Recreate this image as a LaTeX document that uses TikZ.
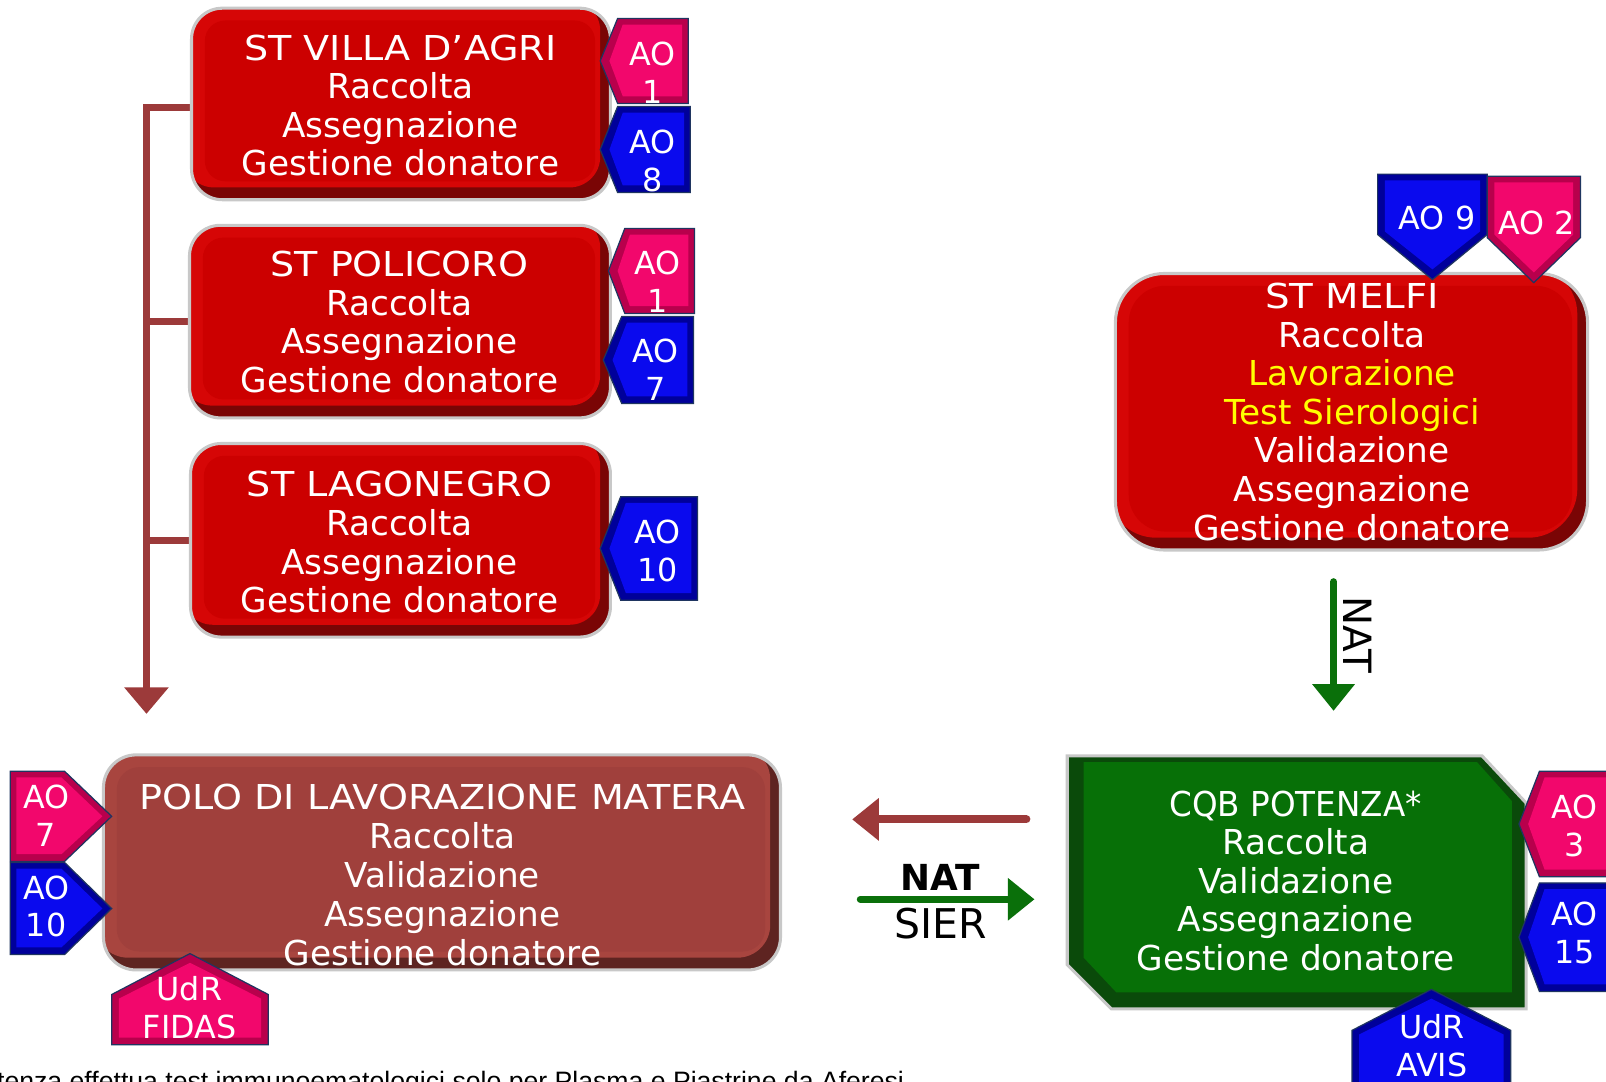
\documentclass[tikz,border=0pt]{standalone}
\usepackage{fontspec}
\setmainfont{DejaVu Sans}
\newfontfamily\arialfont{Liberation Sans}
\usepackage{graphicx}
\usetikzlibrary{arrows.meta}
\definecolor{stdark}{HTML}{7A0505}
\definecolor{stmain}{HTML}{D60606}
\definecolor{stpanel}{HTML}{CC0000}
\definecolor{polodark}{HTML}{5E2421}
\definecolor{polomain}{HTML}{A8453F}
\definecolor{polopanel}{HTML}{A0403C}
\definecolor{cqbdark}{HTML}{0A4A0A}
\definecolor{cqbmain}{HTML}{077007}
\definecolor{rimgray}{HTML}{C8C8C8}
\definecolor{pinkdark}{HTML}{B8004C}
\definecolor{pinkmain}{HTML}{F2076C}
\definecolor{bluedark}{HTML}{00009A}
\definecolor{bluemain}{HTML}{0A0AEE}
\definecolor{tagline}{HTML}{1F3560}
\definecolor{brkcol}{HTML}{9C3A3A}
\definecolor{arrgreen}{HTML}{0A700A}
\definecolor{yelltxt}{HTML}{FFFF00}
\tikzset{
  boxtxt/.style={text=white, align=center, inner sep=0pt, font=\fontsize{33.5}{37.7}\selectfont},
  tagtxt/.style={text=white, align=center, inner sep=0pt, font=\fontsize{31}{37}\selectfont},
  rim/.style={draw=rimgray, line width=3pt},
  tagedge/.style={draw=tagline, line width=1.2pt},
  brk/.style={draw=brkcol, line width=7pt},
  greenarrow/.style={draw=arrgreen, line width=7pt, line cap=round, -{Triangle[width=40pt,length=26pt]}},
  brownarrow/.style={draw=brkcol, line width=8pt, line cap=round, -{Triangle[width=40pt,length=26pt]}},
}
% rounded bevel box: x0 y0 x1 y1 radius dark main panel innerradius
\newcommand\rbevel[9]{%
  \fill[#6, rounded corners=#5] (#1,#2) rectangle (#3,#4);
  \begin{scope}
    \clip[rounded corners=#5] (#1,#2) rectangle (#3,#4);
    \fill[#7, rounded corners=#5] ({#1-8},{#2-8}) rectangle ({#3-10},{#4-12});
  \end{scope}
  \fill[#8, rounded corners=#9] ({#1+13},{#2+12}) rectangle ({#3-15},{#4-18});
  \draw[rim, rounded corners=#5] (#1,#2) rectangle (#3,#4);
}
% left-pointing tag: x0 y0 x1 y1 d dark main
\newcommand\tagL[7]{%
  \filldraw[fill=#6, tagedge] ({#1+#5},#2) -- (#3,#2) -- (#3,#4) -- ({#1+#5},#4) -- (#1,{(#2+#4)/2}) -- cycle;
  \fill[#7] ({#1+#5+5},{#2+6}) -- ({#3-6},{#2+6}) -- ({#3-6},{#4-7}) -- ({#1+#5+5},{#4-7}) -- ({#1+9},{(#2+#4)/2}) -- cycle;
}
% right-pointing tag: x0 y0 x1 y1 d dark main
\newcommand\tagR[7]{%
  \filldraw[fill=#6, tagedge] (#1,#2) -- ({#3-#5},#2) -- (#3,{(#2+#4)/2}) -- ({#3-#5},#4) -- (#1,#4) -- cycle;
  \fill[#7] ({#1+6},{#2+6}) -- ({#3-#5-3},{#2+6}) -- ({#3-9},{(#2+#4)/2}) -- ({#3-#5-3},{#4-7}) -- ({#1+6},{#4-7}) -- cycle;
}
% up-pointing tag: x0 ytip x1 ybase ybottom dark main
\newcommand\tagU[7]{%
  \filldraw[fill=#6, tagedge] ({(#1+#3)/2},#2) -- (#3,#4) -- (#3,#5) -- (#1,#5) -- (#1,#4) -- cycle;
  \fill[#7] ({(#1+#3)/2},{#2+9}) -- ({#3-7},{#4+4}) -- ({#3-7},{#5-7}) -- ({#1+7},{#5-7}) -- ({#1+7},{#4+4}) -- cycle;
}
% down-pointing tag: x0 ytop x1 ybase ytip dark main
\newcommand\tagD[7]{%
  \filldraw[fill=#6, tagedge] (#1,#2) -- (#3,#2) -- (#3,#4) -- ({(#1+#3)/2},#5) -- (#1,#4) -- cycle;
  \fill[#7] ({#1+7},{#2+6}) -- ({#3-7},{#2+6}) -- ({#3-7},{#4-3}) -- ({(#1+#3)/2},{#5-10}) -- ({#1+7},{#4-3}) -- cycle;
}
\begin{document}
\begin{tikzpicture}[x=1pt,y=-1pt]
\useasboundingbox (0,0) rectangle (1568,1056);
\fill[white] (0,0) rectangle (1568,1056);

% ---------- bracket on the left ----------
\coordinate (vj) at (188,105);
\coordinate (pj) at (186,314);
\coordinate (lj) at (186,528);
\coordinate (b1) at (143,105);
\coordinate (b2) at (143,314);
\coordinate (b3) at (143,528);
\coordinate (bend) at (143,697);
\draw[brk, line join=miter] (vj) -- (b1) -- (b3);
\draw[brk, -{Triangle[width=42pt,length=26pt]}] (b3) -- (bend);
\draw[brk] (pj) -- (b2);
\draw[brk] (lj) -- (b3);

% ---------- ST boxes ----------
\rbevel{187}{8}{596}{195}{30pt}{stdark}{stmain}{stpanel}{20pt}
\rbevel{185}{220}{596}{408}{30pt}{stdark}{stmain}{stpanel}{20pt}
\rbevel{186}{433}{596}{622}{30pt}{stdark}{stmain}{stpanel}{20pt}
\rbevel{1089}{267}{1550}{537}{48pt}{stdark}{stmain}{stpanel}{36pt}

% ---------- POLO box ----------
\rbevel{101}{737}{762}{947}{32pt}{polodark}{polomain}{polopanel}{22pt}

% ---------- CQB box ----------
\filldraw[fill=cqbdark, rim] (1042,738) -- (1447,738) -- (1490,784) -- (1490,985) -- (1085,985) -- (1042,942) -- cycle;
\fill[cqbmain] (1058,744) -- (1442,744) -- (1476,782) -- (1476,969) -- (1090,969) -- (1058,935) -- cycle;

% ---------- tags ----------
\tagL{586}{18}{672}{101}{17}{pinkdark}{pinkmain}
\tagL{586}{104}{674}{188}{17}{bluedark}{bluemain}
\tagL{594}{223}{678}{306}{16}{pinkdark}{pinkmain}
\tagL{589}{309}{677}{394}{18}{bluedark}{bluemain}
\tagL{586}{485}{681}{586}{20}{bluedark}{bluemain}
\tagD{1345}{170}{1452}{229}{273}{bluedark}{bluemain}
\tagD{1452}{172}{1543}{232}{276}{pinkdark}{pinkmain}
\tagR{10}{753}{109}{841}{46}{pinkdark}{pinkmain}
\tagR{10}{842}{109}{932}{46}{bluedark}{bluemain}
\tagU{109}{931}{262}{971}{1020}{pinkdark}{pinkmain}
\tagL{1483}{753}{1600}{856}{20}{pinkdark}{pinkmain}
\tagL{1483}{862}{1600}{968}{20}{bluedark}{bluemain}
\tagU{1320}{966}{1475}{1006}{1075}{bluedark}{bluemain}

% ---------- box texts ----------
\node[boxtxt] (villa) at (391,103) {\scalebox{1.11}[1]{ST VILLA D’AGRI}\\Raccolta\\Assegnazione\\Gestione donatore};
\node[boxtxt] (policoro) at (390,314.5) {\scalebox{1.11}[1]{ST POLICORO}\\Raccolta\\Assegnazione\\Gestione donatore};
\node[boxtxt] (lagonegro) at (390,529.5) {\scalebox{1.11}[1]{ST LAGONEGRO}\\Raccolta\\Assegnazione\\Gestione donatore};
\node[boxtxt] (melfi) at (1320,402) {\scalebox{1.13}[1]{ST MELFI}\\Raccolta\\\textcolor{yelltxt}{Lavorazione}\\\textcolor{yelltxt}{Test Sierologici}\\Validazione\\Assegnazione\\Gestione donatore};
\node[boxtxt, font=\fontsize{33.5}{38}\selectfont] (polo) at (432,854) {\scalebox{1.11}[1]{POLO DI LAVORAZIONE MATERA}\\Raccolta\\Validazione\\Assegnazione\\Gestione donatore};
\node[boxtxt, font=\fontsize{33.5}{37.5}\selectfont] (cqb) at (1265,860) {\scalebox{0.95}[1]{CQB POTENZA*}\\Raccolta\\Validazione\\Assegnazione\\Gestione donatore};

% ---------- tag texts ----------
\node[tagtxt] (vao1) at (637,71) {AO\\1};
\node[tagtxt] (vao8) at (637,157) {AO\\8};
\node[tagtxt] (pao1) at (642,275) {AO\\1};
\node[tagtxt] (pao7) at (640,361) {AO\\7};
\node[tagtxt] (lao10) at (642,538) {AO\\10};
\node[tagtxt] (mao9) at (1403,213) {AO 9};
\node[tagtxt] (mao2) at (1500,218) {AO 2};
\node[tagtxt] (oao7) at (45,796) {AO\\7};
\node[tagtxt] (oao10) at (45,885) {AO\\10};
\node[tagtxt] (fidas) at (185,984) {UdR\\FIDAS};
\node[tagtxt] (cao3) at (1537,806) {AO\\3};
\node[tagtxt] (cao15) at (1537,911) {AO\\15};
\node[tagtxt] (avis) at (1398,1021) {UdR\\AVIS};

% ---------- arrows ----------
\coordinate (natS) at (1302,568);
\coordinate (natE) at (1302,694);
\draw[greenarrow] (natS) -- (natE);
\node[rotate=-90, inner sep=0pt, font=\fontsize{38}{40}\selectfont] (natv) at (1326,620) {NAT};

\coordinate (brS) at (1002,800);
\coordinate (brE) at (832,800);
\draw[brownarrow] (brS) -- (brE);

\coordinate (grS) at (840,878);
\coordinate (grE) at (1010,878);
\draw[greenarrow] (grS) -- (grE);
\node[inner sep=0pt, font=\bfseries\fontsize{35}{38}\selectfont] (nath) at (918,857) {NAT};
\node[inner sep=0pt, font=\fontsize{40}{42}\selectfont] (sier) at (918,902) {SIER};

% ---------- footnote (cut by the page edge, as in the reference) ----------
\node[anchor=base west, inner sep=0pt, font=\arialfont\fontsize{26}{30}\selectfont] (foot) at (-3,1065) {tenza effettua test immunoematologici solo per Plasma e Piastrine da Aferesi};
\end{tikzpicture}
\end{document}
